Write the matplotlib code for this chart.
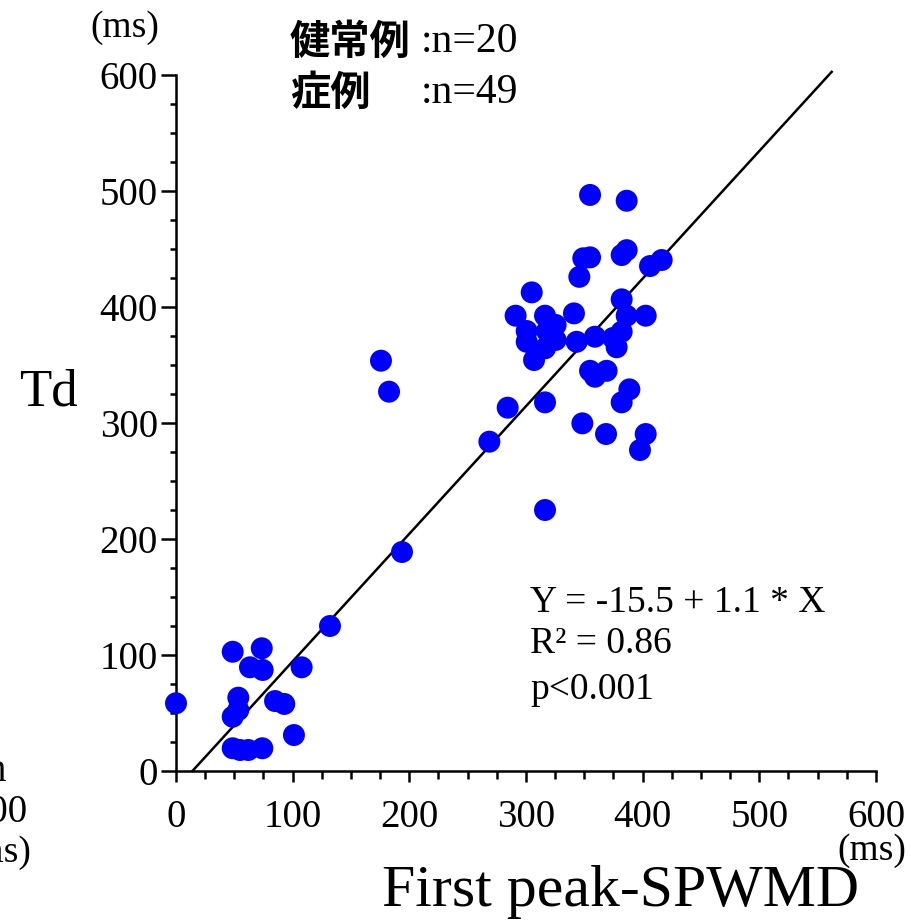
import numpy as np
import matplotlib
matplotlib.use('Agg')
from matplotlib import pyplot as plt
from matplotlib.ticker import MultipleLocator

# First peak-SPWMD (ms) vs Td (ms)
spwmd = [0, 48.6, 73.5, 63.4, 74.3, 107.7, 53.4, 53.4, 48.6, 84.9, 92.8, 101.1,
         48.6, 54.9, 62.0, 74.0, 132.0, 193.7, 175.7, 182.6,
         354.9, 386.3, 349.1, 354.9, 382.0, 386.3, 406.3, 416.3, 345.7, 304.9,
         291.1, 316.3, 341.1, 382.0, 386.3, 402.6, 300.6, 325.4, 300.6, 325.4,
         316.3, 306.9, 343.4, 359.1, 382.0, 377.7, 354.9, 359.1, 369.1, 388.6,
         382.0, 316.3, 284.3, 268.6, 348.3, 368.6, 402.6, 397.7, 316.3, 318.0,
         374.6]
td = [58.4, 102.8, 105.8, 89.4, 87.1, 89.4, 63.2, 52.6, 46.8, 60.3, 57.8, 31.0,
      19.6, 18.1, 18.1, 19.6, 125.0, 188.8, 353.7, 327.0,
      496.6, 491.6, 442.0, 442.8, 444.8, 449.0, 435.3, 440.5, 426.0, 412.6,
      392.5, 392.5, 394.5, 406.6, 392.5, 392.5, 379.3, 384.5, 370.0, 371.6,
      364.4, 354.3, 370.0, 374.4, 378.7, 365.3, 345.0, 339.9, 345.0, 329.0,
      317.8, 317.8, 313.2, 283.9, 299.7, 290.5, 290.5, 276.7, 225.0, 379.3,
      373.3]

intercept = -15.5
slope = 1.1
fit_x = np.array([-intercept / slope, 562.0])

serif = 'Liberation Serif'
jp = ['Noto Sans CJK JP', 'DejaVu Sans']

fig = plt.figure(figsize=(9.12, 9.21), dpi=100)
ax = fig.add_axes([176 / 912, 1 - 771 / 921, 700 / 912, 696 / 921])

ax.plot(fit_x, intercept + slope * fit_x, color='black', lw=1.8, clip_on=False, zorder=2)
ax.scatter(spwmd, td, s=250, color='#0000ff', edgecolors='none', clip_on=False, zorder=3)

ax.set_xlim(0, 600)
ax.set_ylim(0, 600)
for side in ['top', 'right']:
    ax.spines[side].set_visible(False)
for side in ['left', 'bottom']:
    ax.spines[side].set_linewidth(1.8)

ax.xaxis.set_major_locator(MultipleLocator(100))
ax.xaxis.set_minor_locator(MultipleLocator(25))
ax.yaxis.set_major_locator(MultipleLocator(100))
ax.yaxis.set_minor_locator(MultipleLocator(25))
ax.tick_params(axis='x', which='major', direction='out', length=8, width=1.8, pad=12)
ax.tick_params(axis='x', which='minor', direction='out', length=6, width=1.8)
ax.tick_params(axis='y', which='major', direction='out', length=11, width=1.8, pad=2)
ax.tick_params(axis='y', which='minor', direction='out', length=4, width=1.8)
for lab in ax.get_xticklabels() + ax.get_yticklabels():
    lab.set_fontfamily(serif)
    lab.set_fontsize(28)

def px(x, y):
    return x / 912, 1 - y / 921

fig.text(*px(125, 28), '(ms)', family=serif, fontsize=27, ha='center', va='center')
fig.text(*px(872, 851), '(ms)', family=serif, fontsize=27, ha='center', va='center')
fig.text(*px(48, 392), 'Td', family=serif, fontsize=38, ha='center', va='center')
fig.text(*px(621, 892), 'First peak-SPWMD', family=serif, fontsize=43, ha='center', va='center')

fig.text(*px(290, 42), '健常例', family=jp, fontsize=29, weight='bold', ha='left', va='center')
fig.text(*px(421, 42), ':n=20', family=serif, fontsize=30, ha='left', va='center')
fig.text(*px(290, 93), '症例', family=jp, fontsize=29, weight='bold', ha='left', va='center')
fig.text(*px(421, 93), ':n=49', family=serif, fontsize=30, ha='left', va='center')

fig.text(*px(530, 603), 'Y = -15.5 + 1.1 * X', family=serif, fontsize=27, ha='left', va='center')
fig.text(*px(530, 644), 'R² = 0.86', family=serif, fontsize=27, ha='left', va='center')
fig.text(*px(530, 690), 'p<0.001', family=serif, fontsize=27, ha='left', va='center')

# cut-off labels of the neighbouring panel on the left edge
fig.text(*px(6, 771), 'n', family=serif, fontsize=28, ha='right', va='center')
fig.text(*px(28, 813), '600', family=serif, fontsize=28, ha='right', va='center')
fig.text(*px(31, 853), '(ms)', family=serif, fontsize=27, ha='right', va='center')

fig.savefig('out.png', dpi=100)
